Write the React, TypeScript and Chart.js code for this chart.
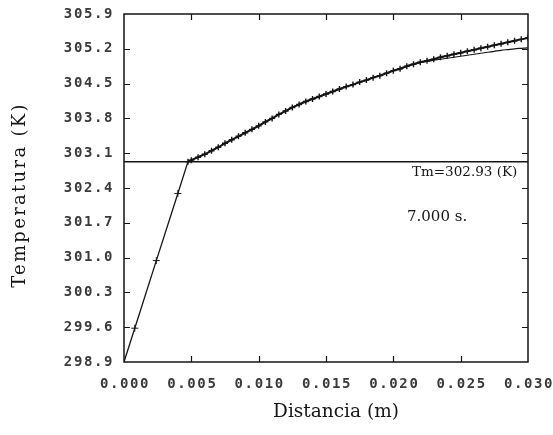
import React, { useEffect, useRef } from "react";
import { Chart, registerables } from "chart.js";
Chart.register(...registerables);

const yTickValues = [298.9, 299.6, 300.3, 301.0, 301.7, 302.4, 303.1, 303.8, 304.5, 305.2, 305.9];
const yTickLabels = ["298.9", "299.6", "300.3", "301.0", "301.7", "302.4", "303.1", "303.8", "304.5", "305.2", "305.9"];
const xTickValues = [0, 0.005, 0.01, 0.015, 0.02, 0.025, 0.03];
const xTickLabels = ["0.000", "0.005", "0.010", "0.015", "0.020", "0.025", "0.030"];

const linearX = [0, 0.0008, 0.0024, 0.004, 0.00475];
const linearT = [298.9, 299.58, 300.94, 302.29, 302.93];
const linearMarks = [0, 3.5, 3.5, 3.5, 0];

const curveX = [
  0.00475, 0.005, 0.0055, 0.006, 0.0065, 0.007, 0.0075, 0.008, 0.0085, 0.009, 0.0095,
  0.01, 0.0105, 0.011, 0.0115, 0.012, 0.0125, 0.013, 0.0135, 0.014, 0.0145,
  0.015, 0.0155, 0.016, 0.0165, 0.017, 0.0175, 0.018, 0.0185, 0.019, 0.0195,
  0.02, 0.0205, 0.021, 0.0215, 0.022, 0.0225, 0.023, 0.0235, 0.024, 0.0245,
  0.025, 0.0255, 0.026, 0.0265, 0.027, 0.0275, 0.028, 0.0285, 0.029, 0.0295, 0.03,
];
const numericT = [
  302.93, 302.96, 303.02, 303.08, 303.15, 303.22, 303.3, 303.37, 303.44, 303.51, 303.58,
  303.65, 303.73, 303.8, 303.88, 303.95, 304.02, 304.08, 304.14, 304.19, 304.24,
  304.29, 304.34, 304.39, 304.44, 304.48, 304.53, 304.57, 304.62, 304.66, 304.71,
  304.76, 304.8, 304.85, 304.89, 304.93, 304.96, 304.99, 305.03, 305.06, 305.09,
  305.12, 305.15, 305.18, 305.21, 305.24, 305.27, 305.3, 305.33, 305.36, 305.39, 305.42,
];
const analyticT = [
  302.93, 302.96, 303.02, 303.08, 303.15, 303.22, 303.3, 303.37, 303.44, 303.51, 303.58,
  303.65, 303.73, 303.8, 303.88, 303.95, 304.02, 304.08, 304.14, 304.19, 304.24,
  304.29, 304.34, 304.39, 304.44, 304.48, 304.53, 304.57, 304.62, 304.66, 304.71,
  304.76, 304.8, 304.85, 304.89, 304.92, 304.95, 304.97, 304.99, 305.01, 305.03,
  305.05, 305.07, 305.09, 305.11, 305.13, 305.15, 305.17, 305.185, 305.2, 305.21, 305.22,
];
const meltX = [0, 0.03];
const meltT = [302.93, 302.93];

const meltLabel = "Tm=302.93 (K)";
const timeLabel = "7.000 s.";
const xTitle = "Distancia (m)";
const yTitle = "Temperatura (K)";

const INK = "#151515";

const framePlugin = {
  id: "frame",
  afterDraw(chart: any) {
    const ctx = chart.ctx as CanvasRenderingContext2D;
    const a = chart.chartArea;
    const xs = chart.scales.x;
    const ys = chart.scales.y;
    ctx.save();
    ctx.strokeStyle = INK;
    ctx.lineWidth = 1.5;
    ctx.strokeRect(a.left, a.top, a.right - a.left, a.bottom - a.top);
    ctx.lineWidth = 1.2;
    const tl = 6;
    ctx.beginPath();
    yTickValues.forEach((v, i) => {
      if (i === 0 || i === yTickValues.length - 1) return;
      const y = Math.round(ys.getPixelForValue(v)) + 0.5;
      ctx.moveTo(a.left, y);
      ctx.lineTo(a.left + tl, y);
      ctx.moveTo(a.right, y);
      ctx.lineTo(a.right - tl, y);
    });
    xTickValues.forEach((v, i) => {
      if (i === 0 || i === xTickValues.length - 1) return;
      const x = Math.round(xs.getPixelForValue(v)) + 0.5;
      ctx.moveTo(x, a.bottom);
      ctx.lineTo(x, a.bottom - tl);
      ctx.moveTo(x, a.top);
      ctx.lineTo(x, a.top + tl);
    });
    ctx.stroke();

    // tick labels
    ctx.fillStyle = "#3a3a3a";
    ctx.font = "bold 14px 'DejaVu Sans Mono', monospace";
    (ctx as any).letterSpacing = "1.6px";
    ctx.textAlign = "right";
    ctx.textBaseline = "middle";
    yTickValues.forEach((v, i) => {
      ctx.fillText(yTickLabels[i], a.left - 10, ys.getPixelForValue(v));
    });
    ctx.textAlign = "center";
    xTickValues.forEach((v, i) => {
      ctx.fillText(xTickLabels[i], xs.getPixelForValue(v) + 1, a.bottom + 22);
    });

    // annotations
    ctx.fillStyle = INK;
    (ctx as any).letterSpacing = "0px";
    ctx.textAlign = "left";
    ctx.font = "13.5px 'DejaVu Serif'";
    ctx.fillText(meltLabel, 412, ys.getPixelForValue(302.93) + 11);
    ctx.font = "15px 'DejaVu Serif'";
    ctx.fillText(timeLabel, 407, 217);

    // axis titles
    ctx.textAlign = "center";
    ctx.font = "18.5px 'DejaVu Serif'";
    ctx.fillText(xTitle, 336, 412);
    ctx.save();
    ctx.translate(20, 195);
    ctx.rotate(-Math.PI / 2);
    (ctx as any).letterSpacing = "2.3px";
    ctx.font = "18px 'DejaVu Serif'";
    ctx.fillText(yTitle, 0, 0);
    ctx.restore();
    ctx.restore();
  },
};

export default function App() {
  const ref = useRef<HTMLCanvasElement>(null);
  useEffect(() => {
    document.body.style.margin = "0";
    const canvas = ref.current!;
    const chart = new Chart(canvas, {
      type: "line",
      data: {
        datasets: [
          {
            data: linearX.map((x, i) => ({ x, y: linearT[i] })),
            borderColor: INK,
            borderWidth: 1.3,
            pointStyle: "cross",
            pointRadius: linearMarks,
            pointBorderColor: INK,
            pointBorderWidth: 1,
            tension: 0,
          },
          {
            data: curveX.map((x, i) => ({ x, y: analyticT[i] })),
            borderColor: INK,
            borderWidth: 1.2,
            pointRadius: 0,
            tension: 0.3,
          },
          {
            data: curveX.map((x, i) => ({ x, y: numericT[i] })),
            borderColor: INK,
            borderWidth: 2,
            pointStyle: "cross",
            pointRadius: 3,
            pointBorderColor: INK,
            pointBorderWidth: 1.4,
            tension: 0.3,
          },
          {
            data: meltX.map((x, i) => ({ x, y: meltT[i] })),
            borderColor: INK,
            borderWidth: 1.5,
            pointRadius: 0,
          },
        ],
      },
      options: {
        responsive: false,
        animation: false,
        devicePixelRatio: 1,
        layout: { padding: { left: 0, top: 14, right: 25, bottom: 0 } },
        plugins: { legend: { display: false }, tooltip: { enabled: false } },
        scales: {
          x: {
            type: "linear",
            min: 0,
            max: 0.03,
            ticks: { display: false },
            grid: { display: false },
            border: { display: false },
            afterFit: (s: any) => {
              s.height = 73;
            },
          },
          y: {
            type: "linear",
            min: 298.9,
            max: 305.9,
            ticks: { display: false },
            grid: { display: false },
            border: { display: false },
            afterFit: (s: any) => {
              s.width = 124;
            },
          },
        },
      },
      plugins: [framePlugin],
    });
    return () => chart.destroy();
  }, []);
  return (
    <div style={{ width: 553, height: 435, background: "#fff" }}>
      <canvas ref={ref} width={553} height={435} />
    </div>
  );
}
